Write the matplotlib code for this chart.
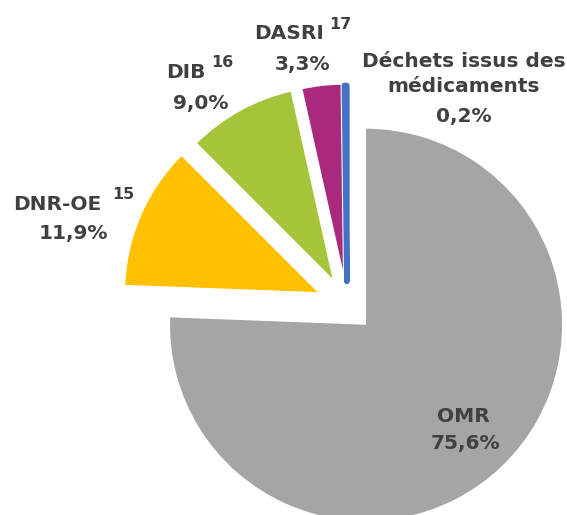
import numpy as np
from matplotlib import pyplot as plt

labels = ['OMR', 'DNR-OE', 'DIB', 'DASRI', 'Déchets issus des\nmédicaments']
values = [75.6, 11.9, 9.0, 3.3, 0.2]
pct_text = ['75,6%', '11,9%', '9,0%', '3,3%', '0,2%']
notes = ['', '15', '16', '17', '']
colors = ['#A5A5A5', '#FFC000', '#A5C439', '#A9297D', '#4472C4']
explode = [0.14, 0.15, 0.135, 0.13, 0.12]

W, H = 567, 515
cx, cy, R = 347, 305, 196


def px(x, y):
    # pixel position -> data units (radius = 1)
    return (x - cx) / R, (cy - y) / R


fig = plt.figure(figsize=(W / 100, H / 100), dpi=100)
ax = fig.add_axes([0, 0, 1, 1])
wedges, _ = ax.pie(values, colors=colors, startangle=90, counterclock=False,
                   explode=explode, radius=1,
                   wedgeprops=dict(linewidth=1.5, edgecolor='white'))
wedges[0].set_linewidth(0)
wedges[4].set_edgecolor(colors[4])
wedges[4].set_linewidth(4)
wedges[4].set_joinstyle('round')
wedges[4].set_capstyle('round')

ax.set_xlim(px(0, 0)[0], px(W, 0)[0])
ax.set_ylim(px(0, H)[1], px(0, 0)[1])
ax.set_aspect('equal')
ax.axis('off')

tc = '#404040'
fs = 14.5
fs_sup = 11.5
kw = dict(color=tc, fontsize=fs, fontweight='bold', ha='center', va='center',
          family='DejaVu Sans')
kw_sup = dict(kw, fontsize=fs_sup)

# OMR
ax.text(*px(463, 417), labels[0], **kw)
ax.text(*px(465, 444), pct_text[0], **kw)
# DNR-OE
ax.text(*px(57, 204), labels[1], **kw)
ax.text(*px(123, 195), notes[1], **kw_sup)
ax.text(*px(73, 234), pct_text[1], **kw)
# DIB
ax.text(*px(186, 73), labels[2], **kw)
ax.text(*px(222, 63), notes[2], **kw_sup)
ax.text(*px(201, 103), pct_text[2], **kw)
# DASRI
ax.text(*px(289, 34), labels[3], **kw)
ax.text(*px(340, 25), notes[3], **kw_sup)
ax.text(*px(303, 65), pct_text[3], **kw)
# Dechets issus des medicaments
ax.text(*px(464, 74), labels[4], linespacing=1.45, **kw)
ax.text(*px(464, 117), pct_text[4], **kw)

fig.savefig('out.png', dpi=100)
plt.close()
